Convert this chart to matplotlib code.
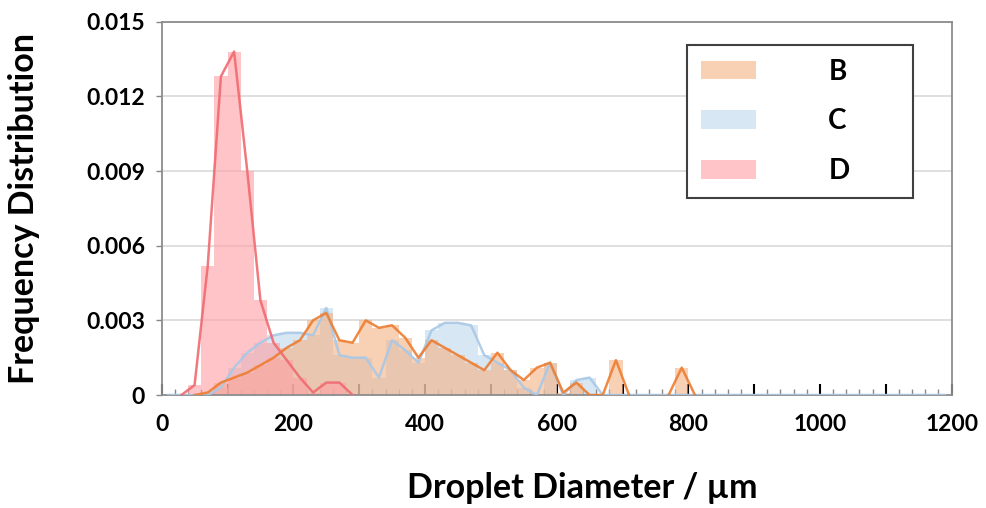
import numpy as np
import matplotlib
matplotlib.use("Agg")
import matplotlib.pyplot as plt
from matplotlib.ticker import MultipleLocator, FuncFormatter

plt.rcParams['font.family'] = ['Lato', 'DejaVu Sans']

# bin centres (20 um bins)
centers = np.arange(10, 1200, 20)

# frequency distribution, rest of the range is zero
b_vals = [0, 0, 0, 0.0001, 0.0005, 0.0007, 0.0009, 0.0012, 0.0015, 0.0019,
          0.0022, 0.0030, 0.0033, 0.0022, 0.0021, 0.0030, 0.0027, 0.0028, 0.0023, 0.0015,
          0.0022, 0.0019, 0.0016, 0.0013, 0.0010, 0.0017, 0.0010, 0.0006, 0.0011, 0.0013,
          0.0001, 0.0005, 0, 0, 0.0014, 0, 0, 0, 0, 0.0011, 0, 0]
c_vals = [0, 0, 0, 0, 0.0003, 0.0011, 0.0017, 0.0021, 0.0024, 0.0025,
          0.0025, 0.0024, 0.0035, 0.0016, 0.0015, 0.0015, 0.0007, 0.0022, 0.0018, 0.0013,
          0.0026, 0.0029, 0.0029, 0.0028, 0.0016, 0.0013, 0.0010, 0.0003, 0, 0.0013,
          0, 0.0006, 0.0007, 0, 0]
d_vals = [0, 0, 0.0004, 0.0052, 0.0128, 0.0138, 0.0090, 0.0038, 0.0021, 0.0014,
          0.0007, 0.0001, 0.0005, 0.0005, 0, 0]

series = ['B', 'C', 'D']
bar_colors = {'B': '#F4B183', 'C': '#BDD7EE', 'D': '#FF9EA3'}
line_colors = {'B': '#ED7D31', 'C': '#A9C8E6', 'D': '#F06A70'}


def pad(vals):
    out = np.zeros(len(centers))
    out[:len(vals)] = vals
    return out


def hide_flat_zeros(v):
    # keep the line off the baseline where a series has nothing
    v = np.asarray(v, dtype=float)
    left = np.r_[0, v[:-1]]
    right = np.r_[v[1:], 0]
    return np.where((v == 0) & (left == 0) & (right == 0), np.nan, v)


data = {'B': pad(b_vals), 'C': pad(c_vals), 'D': pad(d_vals)}
lines = {'B': hide_flat_zeros(data['B']), 'C': data['C'], 'D': hide_flat_zeros(data['D'])}

fig = plt.figure(figsize=(9.87, 5.08), dpi=100)
ax = fig.add_axes([0.1638, 0.2224, 0.8004, 0.7349])

handles = {}
for name in ['C', 'B', 'D']:
    bars = ax.bar(centers, data[name], width=20, color=bar_colors[name],
                  alpha=0.6, linewidth=0, zorder=2)
    ax.plot(centers, lines[name], color=line_colors[name], linewidth=1.8,
            alpha=0.9, zorder=3)
    handles[name] = bars

ax.set_xlim(0, 1200)
ax.set_ylim(0, 0.015)

ax.xaxis.set_major_locator(MultipleLocator(100))
ax.xaxis.set_minor_locator(MultipleLocator(20))
ax.xaxis.set_major_formatter(FuncFormatter(lambda v, p: f"{int(v)}" if int(v) % 200 == 0 else ""))
ax.set_yticks([0, 0.003, 0.006, 0.009, 0.012, 0.015])
ax.set_yticklabels(['0', '0.003', '0.006', '0.009', '0.012', '0.015'])

ax.tick_params(axis='x', which='major', direction='in', length=8, width=1.5,
               color='black', labelsize=16.5, pad=14)
ax.tick_params(axis='x', which='minor', direction='in', length=4, width=1,
               color='#888888')
ax.tick_params(axis='y', which='major', direction='out', length=4, width=1,
               color='#888888', labelsize=16.5, pad=8)
for lab in ax.get_xticklabels() + ax.get_yticklabels():
    lab.set_fontweight('bold')

ax.grid(True, axis='y', color='#D9D9D9', linewidth=1.2, zorder=0)
ax.set_axisbelow(True)
for sp in ax.spines.values():
    sp.set_color('#8C8C8C')
    sp.set_linewidth(1.3)

ax.set_xlabel('Droplet Diameter / µm', fontsize=24.5, fontweight='bold', labelpad=26)
ax.xaxis.label.set_x(0.533)
ax.set_ylabel('Frequency Distribution', fontsize=24.5, fontweight='bold', labelpad=33)

leg = ax.legend([handles[s] for s in series], series, loc='upper left',
                bbox_to_anchor=(0.6646, 0.5358, 0.2868, 0.4018), mode='expand',
                prop={'weight': 'bold', 'size': 20}, handlelength=2.0,
                handleheight=0.65, handletextpad=2.6, labelspacing=0.85,
                borderpad=0.5, borderaxespad=0, fancybox=False,
                edgecolor='#404040', framealpha=1)
leg.get_frame().set_linewidth(1.5)

plt.savefig('out.png', dpi=100)
